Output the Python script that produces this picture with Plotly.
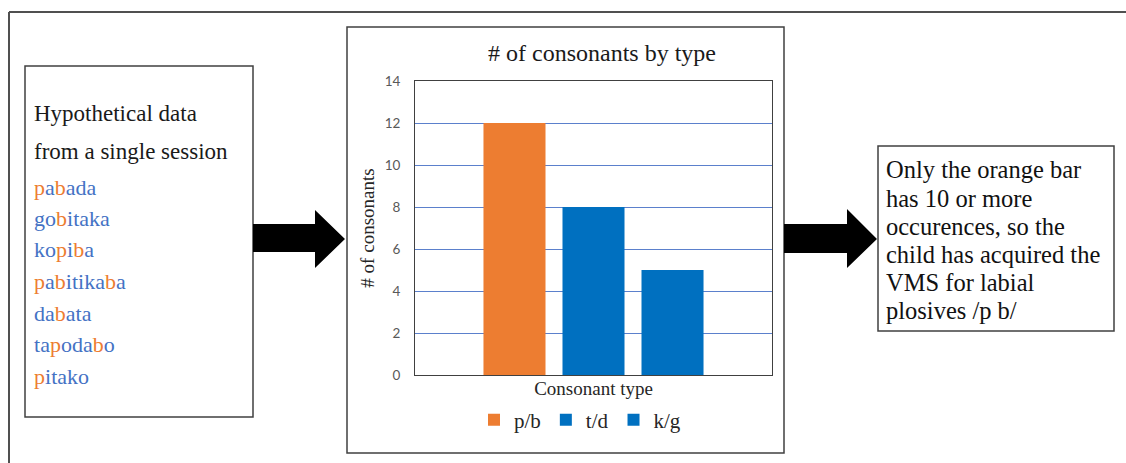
import plotly.graph_objects as go

# ---- data ----
categories = ["p/b", "t/d", "k/g"]
counts = [12, 8, 5]
bar_colors = ["#ED7D31", "#0070C0", "#0070C0"]
group_label = ["Consonant type"]
y_ticks = [0, 2, 4, 6, 8, 10, 12, 14]

words = ["pabada", "gobitaka", "kopiba", "pabitikaba", "dabata", "tapodabo", "pitako"]
header_lines = ["Hypothetical data", "from a single session"]
conclusion_lines = ["Only the orange bar", "has 10 or more", "occurences, so the",
                    "child has acquired the", "VMS for labial", "plosives /p b/"]

ORANGE = "#ED7D31"
BLUE = "#4472C4"
SERIF = "Liberation Serif, Times New Roman, serif"

W, H = 1126, 463
def px(x):
    return x / W
def py(y):
    return 1 - y / H

fig = go.Figure()
for name, val, col in zip(categories, counts, bar_colors):
    fig.add_trace(go.Bar(x=group_label, y=[val], name=name, marker_color=col,
                         marker_line_width=0))

# ---- shapes (frames and arrows) ----
shapes = []
frame = dict(color="#505050", width=2)
shapes.append(dict(type="line", xref="paper", yref="paper", x0=px(9), x1=px(1126), y0=py(12), y1=py(12), line=frame))
shapes.append(dict(type="line", xref="paper", yref="paper", x0=px(9), x1=px(9), y0=py(12), y1=py(463), line=frame))
box = dict(color="#404040", width=1.5)
for (x0, y0, x1, y1) in [(25, 66, 253, 417), (347, 27, 784, 453), (878, 146, 1114, 331)]:
    shapes.append(dict(type="rect", xref="paper", yref="paper", x0=px(x0), x1=px(x1),
                       y0=py(y0), y1=py(y1), line=box, fillcolor="rgba(0,0,0,0)", layer="below"))

def arrow(xs, xh, xt, yb0, yb1, yh0, yh1, yt):
    pts = [(xs, yb0), (xh, yb0), (xh, yh0), (xt, yt), (xh, yh1), (xh, yb1), (xs, yb1)]
    d = "M " + " L ".join(f"{px(a):.5f},{py(b):.5f}" for a, b in pts) + " Z"
    return dict(type="path", xref="paper", yref="paper", path=d, fillcolor="black",
                line=dict(width=0))

shapes.append(arrow(253, 315, 345, 224, 252, 210, 268, 239))
shapes.append(arrow(784, 847, 877, 224, 253, 209, 268, 239))

# ---- annotations (text boxes) ----
annotations = []
for line, yc in zip(header_lines, [113, 152]):
    annotations.append(dict(text=line, xref="paper", yref="paper", x=px(32), y=py(yc),
                            xanchor="left", yanchor="middle", showarrow=False,
                            font=dict(family=SERIF, size=23, color="#1a1a1a")))

def colorize(w):
    out = []
    for ch in w:
        c = ORANGE if ch in "pb" else BLUE
        out.append(f"<span style='color:{c}'>{ch}</span>")
    return "".join(out)

word_y = [187, 218, 250, 281, 313, 344, 376]
for w, yc in zip(words, word_y):
    annotations.append(dict(text=colorize(w), xref="paper", yref="paper", x=px(32), y=py(yc),
                            xanchor="left", yanchor="middle", showarrow=False,
                            font=dict(family=SERIF, size=22, color=BLUE)))

concl_y = [170, 198, 226, 254, 282, 310]
for line, yc in zip(conclusion_lines, concl_y):
    annotations.append(dict(text=line, xref="paper", yref="paper", x=px(884), y=py(yc),
                            xanchor="left", yanchor="middle", showarrow=False,
                            font=dict(family=SERIF, size=24.5, color="#111111")))

fig.update_layout(
    width=W, height=H,
    margin=dict(l=0, r=0, t=0, b=0, pad=0, autoexpand=False),
    paper_bgcolor="white", plot_bgcolor="white",
    barmode="group", bargap=0.336, bargroupgap=0.215,
    title=dict(text="# of consonants by type", x=px(602), y=py(53), xref="paper", yref="paper",
               xanchor="center", yanchor="middle", automargin=False,
               font=dict(family=SERIF, size=24, color="#1a1a1a")),
    xaxis=dict(domain=[px(415), px(772)], showticklabels=False, showgrid=False,
               showline=True, mirror=True, linecolor="#404040", linewidth=1, automargin=False,
               title=dict(text="Consonant type", standoff=6,
                          font=dict(family=SERIF, size=19, color="#262626"))),
    yaxis=dict(domain=[py(375), py(81)], range=[0, 14], tickvals=y_ticks,
               showgrid=True, gridcolor="#5B80CC", gridwidth=1, zeroline=False,
               showline=True, mirror=True, linecolor="#404040", linewidth=1, automargin=False,
               ticklabelstandoff=11,
               tickfont=dict(family="Lato, Open Sans, sans-serif", size=13.5, color="#595959"),
               title=dict(text="# of consonants", standoff=4,
                          font=dict(family=SERIF, size=19, color="#262626"))),
    legend=dict(orientation="h", x=px(580), xanchor="center", y=py(420), yanchor="middle",
                font=dict(family=SERIF, size=21, color="#262626"), bgcolor="rgba(0,0,0,0)",
                traceorder="normal"),
    shapes=shapes,
    annotations=annotations,
)

fig.write_html("out.html", config={"displayModeBar": False},
               post_script="document.body.style.margin='0px';document.body.style.overflow='hidden';")
